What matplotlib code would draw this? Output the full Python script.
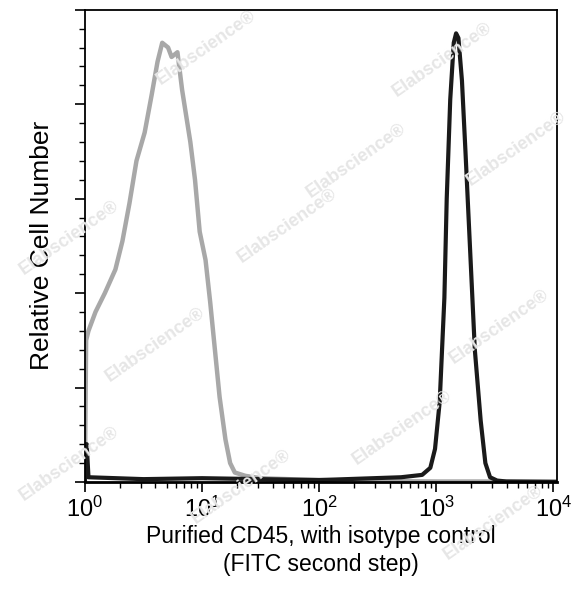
import numpy as np
import matplotlib.pyplot as plt
from matplotlib.ticker import LogLocator, NullFormatter, MultipleLocator

plt.rcParams['font.family'] = ['Liberation Sans', 'DejaVu Sans']

# isotype control (gray), log10 fluorescence vs relative count
iso_logx = [0.00, 0.01, 0.03, 0.09, 0.17, 0.26, 0.32, 0.38, 0.44, 0.51, 0.57, 0.62, 0.66,
            0.71, 0.74, 0.79, 0.83, 0.90, 0.94, 0.98, 1.03, 1.07, 1.11, 1.15, 1.20,
            1.24, 1.28, 1.37, 1.50, 1.85, 2.5, 3.0, 4.03]
iso_h = [0.02, 0.30, 0.32, 0.36, 0.40, 0.45, 0.51, 0.59, 0.68, 0.74, 0.82, 0.89, 0.93,
         0.92, 0.90, 0.91, 0.83, 0.72, 0.64, 0.53, 0.47, 0.38, 0.28, 0.18, 0.09,
         0.04, 0.02, 0.013, 0.008, 0.005, 0.002, 0.001, 0.001]

# purified CD45 (black)
cd_logx = [0.00, 0.005, 0.015, 0.03, 0.5, 1.0, 2.0, 2.7, 2.88, 2.95, 2.99, 3.03, 3.07,
           3.09, 3.12, 3.15, 3.17, 3.19, 3.22, 3.25, 3.29, 3.33, 3.38, 3.42, 3.46,
           3.52, 3.60, 4.03]
cd_h = [0.0, 0.08, 0.08, 0.01, 0.006, 0.008, 0.004, 0.01, 0.015, 0.03, 0.07, 0.17, 0.39,
        0.60, 0.81, 0.93, 0.95, 0.94, 0.85, 0.70, 0.49, 0.28, 0.13, 0.04, 0.01,
        0.003, 0.001, 0.0]

fig = plt.figure(figsize=(5.74, 5.94), dpi=100)
ax = fig.add_axes([0.148, 0.1886, 0.822, 0.795])

# watermark
for (wx, wy) in [(0.36, 0.92), (0.77, 0.9), (0.62, 0.73), (0.9, 0.75),
                 (0.12, 0.6), (0.5, 0.62), (0.87, 0.45), (0.27, 0.42),
                 (0.7, 0.28), (0.42, 0.18), (0.86, 0.12), (0.12, 0.22)]:
    fig.text(wx, wy, 'Elabscience\u00ae', rotation=35, fontsize=13, color='#e6e6e6',
             ha='center', va='center', zorder=0, fontweight='bold')

ax.plot(10 ** np.array(iso_logx), iso_h, color='#a8a8a8', lw=3.2)
ax.plot(10 ** np.array(cd_logx), cd_h, color='#1a1a1a', lw=3)

ax.set_xscale('log')
ax.set_xlim(1, 10 ** 4.03)
ax.set_ylim(0, 1)
ax.patch.set_alpha(0)
ax.xaxis.set_major_locator(LogLocator(base=10, numticks=10))
ax.xaxis.set_minor_locator(LogLocator(base=10, subs=np.arange(2, 10), numticks=20))
ax.xaxis.set_minor_formatter(NullFormatter())
ax.yaxis.set_major_locator(MultipleLocator(0.2))
ax.yaxis.set_minor_locator(MultipleLocator(0.04))
ax.set_yticklabels([])
ax.tick_params(which='major', length=7, width=1.2, labelsize=17)
ax.tick_params(which='minor', length=4, width=1)
for s in ax.spines.values():
    s.set_linewidth(1.3)
ax.spines['bottom'].set_linewidth(2)

ax.set_xlabel('Purified CD45, with isotype control\n(FITC second step)', fontsize=16.5,
              linespacing=1.3, labelpad=2)
ax.set_ylabel('Relative Cell Number', fontsize=19, labelpad=12)

plt.savefig('out.png', dpi=100)
